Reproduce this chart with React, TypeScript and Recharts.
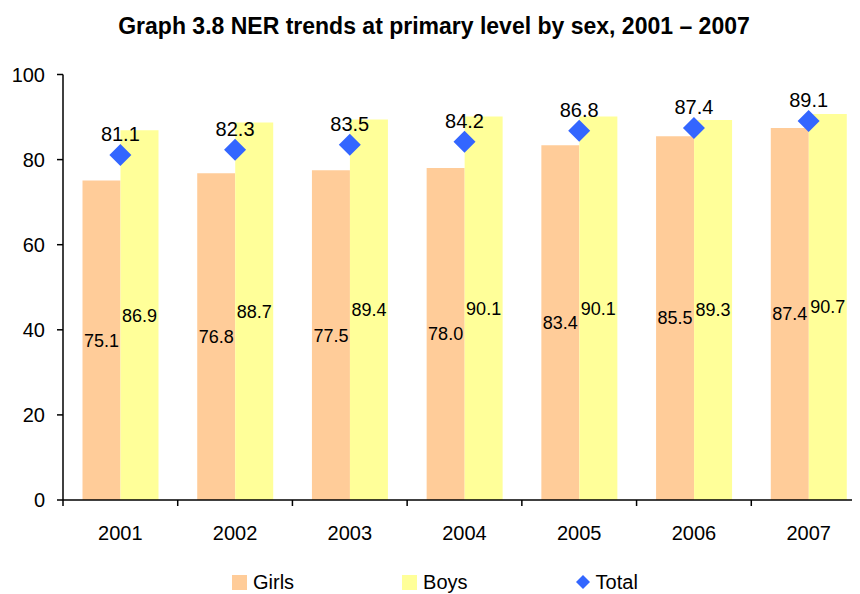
import { ComposedChart, Bar, Line, XAxis, YAxis, Legend, LabelList } from "recharts";

const years = ["2001", "2002", "2003", "2004", "2005", "2006", "2007"];
const girls = [75.1, 76.8, 77.5, 78.0, 83.4, 85.5, 87.4];
const boys = [86.9, 88.7, 89.4, 90.1, 90.1, 89.3, 90.7];
const total = [81.1, 82.3, 83.5, 84.2, 86.8, 87.4, 89.1];
const yTicks = [0, 20, 40, 60, 80, 100];

const GIRLS = "#FFCC99";
const BOYS = "#FFFF99";
const TOTAL = "#3366FF";
const FONT = "'Liberation Sans', Arial, sans-serif";

const W = 870;
const H = 606;
const LEFT = 55;
const RIGHT = 12;
const BAND = (W - LEFT - RIGHT) / years.length;

const data = years.map((year, i) => ({
  year,
  girls: girls[i],
  boys: boys[i],
  total: total[i],
}));

function Diamond(props: any) {
  const { cx, cy } = props;
  if (cx == null || cy == null) return null;
  const r = 11;
  return (
    <polygon
      points={`${cx},${cy - r} ${cx + r},${cy} ${cx},${cy + r} ${cx - r},${cy}`}
      fill={TOTAL}
    />
  );
}

// category labels, with the tick marks drawn on the band edges
function YearTick(props: any) {
  const { x, y, payload, index } = props;
  const axisY = y - 6;
  return (
    <g>
      {index === 0 && (
        <line x1={x - BAND / 2} y1={axisY} x2={x - BAND / 2} y2={axisY + 6} stroke="#000" strokeWidth={1.5} />
      )}
      <line x1={x + BAND / 2} y1={axisY} x2={x + BAND / 2} y2={axisY + 6} stroke="#000" strokeWidth={1.5} />
      <text x={x} y={y + 34} textAnchor="middle" fontSize={20} fontFamily={FONT} fill="#000">
        {payload.value}
      </text>
    </g>
  );
}

function LegendBox() {
  const items = [
    { name: "Girls", color: GIRLS, shape: "square" },
    { name: "Boys", color: BOYS, shape: "square" },
    { name: "Total", color: TOTAL, shape: "diamond" },
  ];
  return (
    <div style={{ display: "flex", fontFamily: FONT, fontSize: 20, color: "#000", lineHeight: "20px" }}>
      {items.map((it) => (
        <div key={it.name} style={{ display: "flex", alignItems: "center", marginRight: 108 }}>
          {it.shape === "square" ? (
            <span style={{ display: "inline-block", width: 15, height: 15, background: it.color, marginRight: 6 }} />
          ) : (
            <svg width={14} height={14} style={{ marginRight: 6 }}>
              <polygon points="7,0 14,7 7,14 0,7" fill={it.color} />
            </svg>
          )}
          <span>{it.name}</span>
        </div>
      ))}
    </div>
  );
}

export default function App() {
  return (
    <div style={{ position: "relative", width: 852, height: 586, overflow: "hidden", background: "#fff" }}>
      <div
        style={{
          position: "absolute",
          top: 5,
          left: 0,
          width: 852,
          textAlign: "center",
          fontFamily: "'Liberation Sans Narrow', 'Arial Narrow', 'Liberation Sans', Arial, sans-serif",
          fontWeight: "bold",
          fontSize: 23,
          lineHeight: "27px",
          zIndex: 1,
        }}
      >
        Graph 3.8 NER trends at primary level by sex, 2001 – 2007
      </div>
      <ComposedChart
        width={W}
        height={H}
        data={data}
        margin={{ top: 66.5, right: RIGHT, bottom: 0, left: 0 }}
        barCategoryGap="17%"
        barGap={0}
      >
        <XAxis
          dataKey="year"
          height={114}
          axisLine={{ stroke: "#000", strokeWidth: 1.5 }}
          tickLine={false}
          tickSize={6}
          tickMargin={0}
          tick={<YearTick />}
          interval={0}
        />
        <YAxis
          width={LEFT}
          domain={[0, 100]}
          ticks={yTicks}
          axisLine={{ stroke: "#000", strokeWidth: 1.5 }}
          tickLine={{ stroke: "#000", strokeWidth: 1.5 }}
          tickSize={6}
          tickMargin={12}
          tick={{ fill: "#000", fontSize: 20, fontFamily: FONT }}
        />
        <Legend
          verticalAlign="middle"
          align="center"
          wrapperStyle={{ top: 564, left: 224, width: "auto" }}
          content={() => <LegendBox />}
        />
        <Bar dataKey="girls" name="Girls" fill={GIRLS} isAnimationActive={false}>
          <LabelList dataKey="girls" position="center" fontSize={18} fontFamily={FONT} fill="#000" formatter={(v: any) => Number(v).toFixed(1)} />
        </Bar>
        <Bar dataKey="boys" name="Boys" fill={BOYS} isAnimationActive={false}>
          <LabelList dataKey="boys" position="center" fontSize={18} fontFamily={FONT} fill="#000" formatter={(v: any) => Number(v).toFixed(1)} />
        </Bar>
        <Line
          dataKey="total"
          name="Total"
          stroke="none"
          dot={<Diamond />}
          activeDot={false}
          isAnimationActive={false}
        >
          <LabelList dataKey="total" position="top" offset={14} fontSize={20} fontFamily={FONT} fill="#000" formatter={(v: any) => Number(v).toFixed(1)} />
        </Line>
      </ComposedChart>
    </div>
  );
}
